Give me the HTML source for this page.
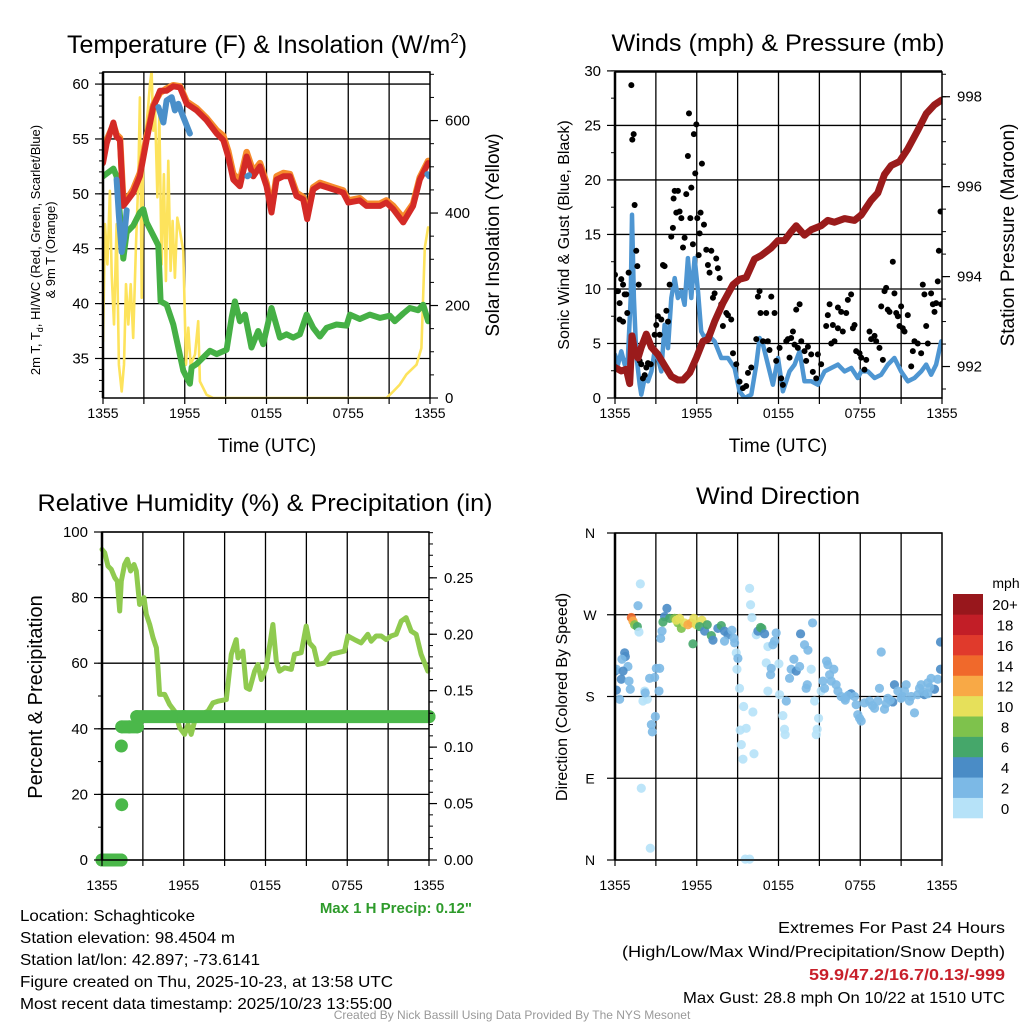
<!DOCTYPE html>
<html><head><meta charset="utf-8"><style>
html,body{margin:0;padding:0;background:#fff;}
svg{display:block;font-family:"Liberation Sans",sans-serif;}
</style></head><body>
<svg id="chart" width="1024" height="1024" viewBox="0 0 1024 1024" xmlns="http://www.w3.org/2000/svg"></svg>
<script>
// ---------- DATA ----------
const xTickLabels = ["1355","1955","0155","0755","1355"];
const tempTicks = [35,40,45,50,55,60];
const solarTicks = [0,200,400,600];
const windTicks = [0,5,10,15,20,25,30];
const presTicks = [992,994,996,998];
const rhTicks = [0,20,40,60,80,100];
const precipTicks = [0,0.05,0.10,0.15,0.20,0.25];
const dirTickLabels = ["N","E","S","W","N"];
const speedBinLabels = ["0","2","4","6","8","10","12","14","16","18","20+"];

const tTimes = [0,0.27,0.76,1.0,1.25,1.49,1.86,2.22,2.71,3.2,3.69,4.18,4.67,5.16,5.65,6.14,6.87,7.6,8.34,8.83,9.19,9.56,10.05,10.54,11.03,11.52,12.0,12.37,12.74,13.23,13.72,14.2,14.69,14.99,15.43,15.92,16.9,17.63,18.0,18.85,19.34,20.32,20.8,21.3,22.03,22.76,23.25,23.86];
const tempRed = [52.8,54.6,56.5,55.2,54.9,48.9,49.5,50.1,51.6,54.9,57.9,59.4,59.4,59.8,59.7,58.2,57.6,56.7,55.5,54.9,53.4,51.3,50.7,53.4,51.6,52.5,50.7,48.3,51.3,51.6,51.6,49.8,49.5,47.7,50.4,50.8,50.4,50.1,49.2,49.4,48.9,48.9,49.2,48.6,47.4,48.9,51.3,52.8];
const tempOrange = [53.1,54.9,56.3,55.4,55.1,49.3,49.7,50.4,51.9,55.2,58.1,59.2,59.6,59.9,59.8,58.4,57.8,56.9,55.8,55.3,53.9,51.8,51.2,53.8,52.0,52.8,51.0,48.6,51.6,51.9,51.8,50.1,49.7,48.0,50.6,51.0,50.6,50.3,49.4,49.6,49.1,49.1,49.4,48.9,47.8,49.1,51.5,53.0];
const wcTimes1 = [1.0,1.17,1.37,1.54,1.74];
const wcVals1 = [51.3,48.0,44.7,45.9,48.5];
const wcTimes2 = [4.06,4.43,4.67,5.04,5.28,5.53,5.89,6.38];
const wcVals2 = [57.9,56.5,58.5,58.8,57.6,58.2,57.0,55.5];
const wcTimes3 = [10.6,10.72];
const wcVals3 = [51.6,51.7];
const wcTimes4 = [23.8,23.95];
const wcVals4 = [51.8,51.6];
const tdTimes = [0,0.76,1.0,1.25,1.49,1.74,2.22,2.71,2.96,3.2,3.69,4.06,4.23,4.67,5.16,5.53,5.89,6.38,6.5,6.87,7.36,7.85,8.34,9.07,9.44,9.68,10.05,10.42,10.9,11.39,11.76,12.37,12.98,13.47,13.96,14.45,14.94,15.43,15.92,16.41,17.14,17.87,18.12,18.85,19.58,20.32,21.05,21.42,22.03,22.52,23.13,23.5,23.86];
const tdVals = [51.6,52.3,51.6,48.0,44.1,46.5,47.1,48.3,48.6,47.4,46.2,45.3,40.2,39.9,38.1,36.0,33.9,32.7,34.2,34.5,35.1,35.7,35.4,35.8,38.7,40.2,38.4,39.0,36.0,37.5,36.3,39.6,36.9,37.2,36.9,37.2,39.0,37.8,37.0,37.8,38.1,38.0,39.0,38.6,39.0,38.7,38.9,38.4,39.1,39.6,39.4,39.9,38.4];
const solTimes = [0,0.15,0.32,0.51,0.64,0.81,1.0,1.17,1.37,1.54,1.69,1.86,2.03,2.22,2.42,2.59,2.71,2.84,2.96,3.15,3.33,3.45,3.57,3.69,3.81,3.99,4.13,4.3,4.47,4.62,4.79,4.96,5.11,5.28,5.45,5.65,5.89,6.09,6.26,6.43,6.75,6.99,7.11,7.6,8.09,20.81,21.3,21.78,22.27,23.01,23.37,23.62,23.86];
const solVals = [123,376,289,448,267,159,376,72,14,72,246,159,246,130,332,470,650,217,535,578,636,679,708,578,636,434,614,289,484,253,513,275,383,260,390,361,318,72,152,72,94,166,36,7,0,0,14,29,51,72,108,325,369];
const windTimes = [0,0.22,0.46,0.71,0.95,1.15,1.25,1.39,1.56,1.81,1.93,2.18,2.42,2.67,2.91,3.15,3.4,3.64,3.89,4.13,4.38,4.62,4.87,5.11,5.35,5.6,5.84,6.09,6.33,6.58,6.82,7.31,7.8,8.29,8.78,9.14,9.51,10.0,10.37,10.61,10.86,11.22,11.59,11.96,12.32,12.81,13.18,13.55,13.91,14.4,14.89,15.38,15.87,16.36,16.85,17.34,17.82,18.07,18.56,19.05,19.54,20.02,20.51,21.0,21.49,21.98,22.47,22.84,23.2,23.57,23.94];
const windVals = [3.97,3.06,4.28,3.06,3.67,9.17,16.8,9.17,3.97,1.22,0.31,1.83,1.53,2.44,4.28,3.67,2.44,6.72,4.58,9.17,11.0,9.17,9.78,8.55,12.83,9.17,12.83,9.78,6.11,5.5,5.8,5.19,3.67,3.67,2.75,0.61,0,0.31,3.06,5.5,4.89,3.06,1.22,3.67,0.61,2.44,3.06,4.28,1.53,1.53,1.22,2.44,2.75,3.06,2.44,2.75,1.83,2.44,2.44,1.83,2.14,3.06,3.67,2.44,1.53,1.83,2.44,3.06,2.14,3.06,5.19];
const presTimes = [0,0.46,0.83,1.08,1.25,1.44,1.69,1.93,2.3,2.67,3.15,3.64,4.13,4.62,4.99,5.48,5.97,6.45,6.82,7.31,7.92,8.66,9.14,9.63,10.24,10.73,11.47,11.96,12.44,12.93,13.3,13.91,14.4,15.13,15.62,16.11,16.85,17.58,18.07,18.8,19.29,19.78,20.27,20.88,21.49,22.22,22.84,23.45,23.94];
const presVals = [991.98,991.9,991.94,991.62,992.68,992.35,992.19,992.43,992.72,992.43,992.27,992.02,991.78,991.7,991.7,991.86,992.19,992.56,992.6,993.0,993.41,993.82,993.94,993.98,994.39,994.47,994.64,994.8,994.8,995.0,995.13,994.92,995.04,995.13,995.25,995.21,995.29,995.25,995.37,995.7,995.86,996.27,996.47,996.56,996.84,997.25,997.62,997.82,997.92];
const gustTimes = [0,0.1,0.22,0.34,0.46,0.59,0.71,0.83,0.34,0.59,0.9,1.0,1.2,1.27,1.37,1.44,1.56,1.64,1.74,1.81,1.93,2.05,2.18,2.3,2.42,2.62,2.79,2.91,3.03,3.15,3.28,3.4,3.52,3.64,3.77,3.89,4.01,4.13,4.25,4.3,4.38,4.62,4.5,4.74,4.87,4.99,5.11,5.23,5.35,5.43,5.53,5.6,5.72,5.79,5.89,5.97,6.04,6.14,6.21,6.28,6.38,6.53,6.7,6.82,6.94,7.07,7.19,7.31,7.43,7.55,7.68,7.8,7.92,8.17,8.29,8.53,8.66,8.9,9.14,9.39,9.63,9.76,10.0,10.37,10.49,10.61,10.68,10.86,11.1,11.22,11.34,11.47,11.71,11.83,12.08,12.2,12.32,12.57,12.69,12.81,12.93,13.06,13.18,13.3,13.42,13.55,13.67,13.91,14.03,14.16,14.4,14.52,14.77,14.89,15.13,15.5,15.62,15.75,15.87,15.99,16.11,16.36,16.36,16.6,16.72,16.97,17.09,17.33,17.46,17.58,17.7,17.95,18.07,18.31,18.44,18.68,18.8,19.05,19.17,19.41,19.54,19.66,19.78,19.9,20.02,20.15,20.39,20.51,20.64,20.76,20.88,21.0,21.12,21.25,21.49,21.74,21.86,21.98,22.22,22.47,22.59,22.71,22.84,22.96,23.2,23.33,23.45,23.57,23.69,23.77,23.89,23.94];
const gustVals = [11.3,9.8,9.8,8.7,10.9,10.4,9.5,9.5,7.2,7.0,7.8,11.5,28.7,23.7,24.2,17.7,13.5,12.1,10.4,3.4,3.1,1.8,2.1,2.8,3.2,3.1,4.6,5.8,6.7,7.5,5.8,7.2,12.2,12.1,8.0,7.0,10.4,14.8,15.6,18.3,19.0,19.0,17.0,17.1,16.5,13.8,14.7,18.7,22.2,26.1,16.5,19.3,14.1,24.2,20.6,25.1,16.5,13.1,15.1,17.0,21.5,15.9,13.6,12.2,11.5,13.5,9.2,9.6,12.8,11.9,11.0,8.6,6.6,7.8,7.6,7.2,4.1,3.1,1.5,0.9,1.1,2.3,2.8,5.4,9.3,9.8,7.8,5.2,7.8,5.2,4.4,9.3,7.8,3.4,4.6,1.8,1.2,5.2,5.4,3.7,5.5,6.1,4.9,8.1,4.6,8.6,5.2,4.3,3.4,4.7,4.0,2.4,1.8,4.0,3.1,6.6,7.6,8.6,5.0,6.7,5.2,8.3,6.4,7.9,6.1,7.8,9.0,9.5,6.4,6.7,4.3,4.1,3.7,2.6,3.5,6.1,5.4,5.7,5.2,4.6,8.4,3.5,9.8,10.1,8.1,7.9,12.5,9.6,7.8,7.5,6.6,8.4,6.4,6.1,7.6,2.9,4.3,5.2,5.0,4.1,10.4,9.5,6.6,5.0,9.6,8.6,7.9,8.7,10.7,13.5,17.1,8.6];
const rhTimes = [0,0.2,0.44,0.68,0.93,1.12,1.3,1.42,1.66,1.86,2.1,2.35,2.52,2.76,3.08,3.25,3.5,3.74,3.99,4.11,4.23,4.6,4.96,5.33,5.7,6.06,6.31,6.55,6.8,7.29,7.78,8.14,8.51,9.12,9.49,9.85,9.98,10.34,10.59,10.83,11.2,11.44,11.69,12.05,12.54,12.79,13.03,13.4,13.89,14.13,14.62,14.99,15.23,15.55,15.84,16.33,16.82,17.31,17.8,18.04,18.53,19.02,19.51,19.76,20.12,20.49,20.86,21.22,21.59,21.96,22.32,22.69,23.06,23.42,23.91];
const rhVals = [94.7,93.7,89.6,88.6,86.1,85.0,75.9,85.0,90.1,91.7,88.1,90.1,88.1,77.9,80.0,74.9,71.8,67.8,64.7,58.6,50.5,50.5,47.4,45.4,40.3,38.3,41.3,38.3,42.3,44.4,45.4,47.9,48.4,48.9,62.7,67.2,61.6,63.7,52.5,52.0,57.6,59.6,55.0,58.6,71.8,60.6,57.6,58.6,58.1,62.7,63.2,71.3,66.2,64.7,59.6,60.1,62.7,63.2,63.7,68.3,67.2,66.2,68.8,66.7,68.3,68.3,67.2,68.3,68.8,72.8,73.9,69.8,68.8,62.7,57.6];
const precipTimes = [0,0.5,1.0,1.4,1.45,1.42,1.45,2.0,2.6,2.55,6,12,18,24];
const precipVals = [0,0,0,0,0.049,0.101,0.118,0.118,0.118,0.127,0.127,0.127,0.127,0.127];
const dirTimes = [1.86,1.69,1.2,1.32,1.44,1.64,1.76,0.71,0.76,0.51,0.95,0,0.1,0.59,0.46,1.03,0.1,0.34,1.12,2.18,2.05,2.37,2.22,2.54,2.91,3.03,3.28,3.23,2.96,2.67,2.74,1.93,2.59,3.81,3.64,4.01,4.38,4.62,4.87,4.5,4.74,5.11,5.35,5.6,5.79,5.97,6.38,5.72,3.52,3.45,3.35,6.21,6.58,6.77,7.07,7.55,7.8,7.19,8.04,8.29,8.58,8.73,8.78,8.04,8.9,9.02,8.95,9.14,9.44,10.12,9.19,9.63,9.27,9.39,10.2,9.88,9.95,10.05,10.37,10.49,10.68,10.78,10.98,11.22,11.59,11.71,11.1,11.47,11.42,12.03,11.83,12.08,11.22,12.32,12.57,12.49,12.44,12.81,12.93,13.13,13.3,13.55,13.62,13.91,14.16,14.4,14.11,14.03,14.65,14.94,14.84,14.77,14.5,15.13,15.26,15.38,15.53,15.62,15.75,15.87,16.06,16.23,16.36,16.6,16.85,17.21,17.33,17.58,17.7,17.82,17.95,18.07,18.31,18.68,19.05,19.29,19.54,19.41,19.78,20.02,20.39,20.51,20.76,21.0,21.25,21.37,21.61,21.98,22.22,22.47,22.71,22.96,23.2,23.45,23.69,23.89,23.89,22.96,22.35,21.74,9.56,9.88,18.9,19.9,20.2,21.1,22.6,23.1,17.1,16.9];
const dirDegs = [304,280,267,263,259,257,251,228,224,221,213,208,210,208,199,197,187,177,188,186,175,177,184,200,201,211,211,186,158,149,141,79,13,277,268,266,266,261,255,264,266,261,259,261,266,259,264,238,262,252,244,257,252,259,247,255,258,242,252,248,253,244,239,241,228,222,210,189,169,163,143,145,127,111,117,299,281,267,248,252,256,255,249,235,237,241,217,211,204,216,250,182,186,159,175,138,144,200,210,221,208,213,249,237,231,210,193,189,175,156,144,138,261,186,197,189,219,215,204,197,210,193,186,180,178,182,183,180,171,160,156,153,173,175,167,175,229,189,166,178,174,193,186,178,186,193,175,162,182,193,182,195,200,188,199,210,240,183,189,180,1,1,170,172,176,180,185,190,181,176];
const dirSpeeds = [0,3,15,13,9,7,1,4,4,3,3,4,3,4,4,3,4,3,3,1,0,1,3,3,3,3,3,3,3,3,3,1,0,4,5,7,9,9,8,10,10,10,12,12,10,11,10,6,6,3,3,6,4,6,6,4,6,4,4,4,3,3,3,3,1,2,1,1,1,1,1,1,1,1,1,0,0,0,1,4,6,6,4,1,2,2,1,2,2,1,3,1,0,1,3,1,1,2,2,2,4,2,4,2,2,0,2,2,0,1,1,1,2,0,2,2,2,2,2,2,2,2,2,2,2,2,4,2,2,2,2,2,2,2,2,2,2,2,2,2,4,4,2,2,2,2,2,2,2,2,4,2,2,4,2,4,4,2,2,2,0,0,2,2,2,2,2,2,2,2];
const speedColors = ["#b6e2f8","#7cb9e6","#4a8cc6","#45a76a","#7ec24c","#e6e05a","#f8a946","#f0692b","#e03a2c","#c21e27","#98171c"];

// ---------- RENDER ----------
const NS="http://www.w3.org/2000/svg";
const svg=document.getElementById('chart');
function el(tag,attrs,parent){const e=document.createElementNS(NS,tag);for(const k in attrs)e.setAttribute(k,attrs[k]);(parent||svg).appendChild(e);return e;}
function txt(s,x,y,size,anchor,parent,extra){const t=el('text',Object.assign({x:x,y:y,'font-size':size,'text-anchor':anchor||'middle',fill:'#000'},extra||{}),parent);t.textContent=s;return t;}
function fitW(t,w){t.setAttribute('textLength',w);t.setAttribute('lengthAdjust','spacingAndGlyphs');}

const P1={x0:103,x1:430,y0:72,y1:398};
const P2={x0:615,x1:942,y0:72,y1:398};
const P3={x0:102,x1:429,y0:532,y1:860};
const P4={x0:615,x1:942,y0:533,y1:860};
function sx(P,h){return P.x0+(P.x1-P.x0)*h/24;}
function lin(P,lo,hi){return v=>P.y1-(P.y1-P.y0)*(v-lo)/(hi-lo);}
const yT=lin(P1,31.4,61.1), yS=lin(P1,0,705);
const yW=lin(P2,0,29.9), yP=lin(P2,991.3,998.55);
const yR=lin(P3,0,100), yPr=lin(P3,0,0.2906);
const yD=lin(P4,0,360);

function grid(P,g,ys){
  for(let h=3;h<24;h+=3){const l=el('line',{x1:sx(P,h),x2:sx(P,h),y1:P.y0,y2:P.y1,stroke:'#000','stroke-width':1.3},g);
    
    }
  ys.forEach(y=>{const l=el('line',{x1:P.x0,x2:P.x1,y1:y,y2:y,stroke:'#000','stroke-width':1.3},g);
    
    });
}
function frame(P,g){
  const r=el('rect',{x:P.x0,y:P.y0,width:P.x1-P.x0,height:P.y1-P.y0,fill:'none',stroke:'#000','stroke-width':1.5},g);
  
  
  el('line',{x1:P.x0,x2:P.x0,y1:P.y0,y2:P.y1,stroke:'#000','stroke-width':2.5},g);
}
function xAxis(P,g,labY){
  const ax=el('g',{},g);
  
  
  for(let h=0;h<=24;h+=3){el('line',{x1:sx(P,h),x2:sx(P,h),y1:P.y1,y2:P.y1+6,stroke:'#000','stroke-width':1.2},ax);}
  xTickLabels.forEach((s,i)=>{const t=txt(s,sx(P,i*6),labY,14,'middle',ax);
    
    });
}
function yAxisL(P,g,ticks,fy,fmt,minorStep,lo,hi){
  const ax=el('g',{},g);
  
  
  if(minorStep){for(let v=lo;v<=hi+1e-9;v+=minorStep){el('line',{x1:P.x0-4,x2:P.x0,y1:fy(v),y2:fy(v),stroke:'#000','stroke-width':1},ax);}}
  ticks.forEach(v=>{el('line',{x1:P.x0-8,x2:P.x0,y1:fy(v),y2:fy(v),stroke:'#000','stroke-width':1.2},ax);
    const t=txt(fmt(v),P.x0-14,fy(v)+5,15,'end',ax);
    
    });
}
function yAxisR(P,g,ticks,fy,fmt,minorStep,lo,hi){
  const ax=el('g',{},g);
  
  
  if(minorStep){for(let v=lo;v<=hi+1e-9;v+=minorStep){el('line',{x1:P.x1,x2:P.x1+4,y1:fy(v),y2:fy(v),stroke:'#000','stroke-width':1},ax);}}
  ticks.forEach(v=>{el('line',{x1:P.x1,x2:P.x1+8,y1:fy(v),y2:fy(v),stroke:'#000','stroke-width':1.2},ax);
    const t=txt(fmt(v),P.x1+15,fy(v)+5,15,'start',ax);
    
    });
}
function line(P,g,times,vals,fy,color,w,name){
  const pts=times.map((h,i)=>sx(P,h).toFixed(1)+','+fy(vals[i]).toFixed(1)).join(' ');
  const p=el('polyline',{points:pts,fill:'none',stroke:color,'stroke-width':w,'stroke-linejoin':'round','stroke-linecap':'round'},g);
  
  
  return p;
}
function rotText(s,x,y,size,parent,name){
  const t=txt(s,0,0,size,'middle',parent,{transform:'translate('+x+','+y+') rotate(-90)'});
  
  
  return t;
}
function clip(id,P){const c=el('clipPath',{id:id});el('rect',{x:P.x0,y:P.y0-1,width:P.x1-P.x0,height:P.y1-P.y0+2},c);}
clip('c1',P1);clip('c2',P2);clip('c3',{x0:P3.x0-8,x1:P3.x1+10,y0:P3.y0,y1:P3.y1+10});clip('c4',{x0:P4.x0,x1:P4.x1,y0:P4.y0-5,y1:P4.y1+5});

// ---- Panel 1
const g1=el('g',{});


grid(P1,g1,tempTicks.map(yT).concat([P1.y0]));
const s1=el('g',{'clip-path':'url(#c1)'},g1);
line(P1,s1,solTimes,solVals,yS,'#fde35c',2.6,'solar-insolation-line');
line(P1,s1,tdTimes,tdVals,yT,'#45b045',6,'dewpoint-line');
line(P1,s1,tTimes,tempOrange,yT,'#f68b2c',6.5,'temp-9m-line');
line(P1,s1,tTimes,tempRed,yT,'#d42a26',6,'temp-2m-line');
[[wcTimes1,wcVals1],[wcTimes2,wcVals2],[wcTimes3,wcVals3],[wcTimes4,wcVals4]].forEach(a=>line(P1,s1,a[0],a[1],yT,'#4a8fc9',6,'heat-index-windchill-line'));
frame(P1,g1);
xAxis(P1,g1,418);
yAxisL(P1,g1,tempTicks,yT,v=>String(v),1,32,61);
yAxisR(P1,g1,solarTicks,yS,v=>String(v),50,0,700);
const t1=txt('',267,53,25,'middle',g1);t1.innerHTML='Temperature (F) &amp; Insolation (W/m<tspan font-size="15" dy="-10">2</tspan><tspan dy="10">)</tspan>';


const yl1=txt('',0,0,13,'middle',g1,{transform:'translate(40,250) rotate(-90)'});
yl1.innerHTML='2m T, T<tspan font-size="9" dy="3">d</tspan><tspan dy="-3">, HI/WC (Red, Green, Scarlet/Blue)</tspan>';


rotText('& 9m T (Orange)',55,250,13,g1,'temperature-y-title-line2');
rotText('Solar Insolation (Yellow)',499,235,19,g1,'solar-y-title');
const xt1=txt('Time (UTC)',267,452,19,'middle',g1);



// ---- Panel 2
const g2=el('g',{});


grid(P2,g2,windTicks.map(yW));
const s2=el('g',{'clip-path':'url(#c2)'},g2);
line(P2,s2,windTimes,windVals,yW,'#4e96d2',4.5,'sonic-wind-line');
gustTimes.forEach((h,i)=>{const c=el('circle',{cx:sx(P2,h),cy:yW(gustVals[i]),r:3,fill:'#000'},s2);
  
  });
line(P2,s2,presTimes,presVals,yP,'#9a1b1b',7,'pressure-line');
frame(P2,g2);
xAxis(P2,g2,418);
yAxisL(P2,g2,windTicks,yW,v=>String(v),2.5,0,30);
yAxisR(P2,g2,presTicks,yP,v=>String(v),0.5,991.5,998.5);
const t2=txt('Winds (mph) & Pressure (mb)',778,51,24,'middle',g2);
fitW(t2,333);


rotText('Sonic Wind & Gust (Blue, Black)',569,235,16,g2,'wind-y-title');
rotText('Station Pressure (Maroon)',1014,235,19,g2,'pressure-y-title');
const xt2=txt('Time (UTC)',778,452,19,'middle',g2);



// ---- Panel 3
const g3=el('g',{});


grid(P3,g3,rhTicks.map(yR));
const s3=el('g',{'clip-path':'url(#c3)'},g3);
line(P3,s3,rhTimes,rhVals,yR,'#8fca4f',5,'relative-humidity-line');
for(let i=0;i<precipTimes.length;i++){
  const c=el('circle',{cx:sx(P3,precipTimes[i]),cy:yPr(precipVals[i]),r:6.5,fill:'#4bb84a'},s3);
  
  
  if(i>0&&precipVals[i]===precipVals[i-1]){
    const l=el('line',{x1:sx(P3,precipTimes[i-1]),x2:sx(P3,precipTimes[i]),y1:yPr(precipVals[i]),y2:yPr(precipVals[i]),stroke:'#4bb84a','stroke-width':13,'stroke-linecap':'round'},s3);
    
    
  }
}
frame(P3,g3);
xAxis(P3,g3,890);
yAxisL(P3,g3,rhTicks,yR,v=>String(v),10,0,100);
yAxisR(P3,g3,precipTicks,yPr,v=>v.toFixed(2),0.01,0,0.29);
const t3=txt('Relative Humidity (%) & Precipitation (in)',265,511,24,'middle',g3);
fitW(t3,455);


rotText('Percent & Precipitation',42,697,20,g3,'humidity-y-title');
const mp=txt('Max 1 H Precip: 0.12"',472,913,15,'end',g3,{fill:'#2e9b2b','font-weight':'bold'});



// ---- Panel 4
const g4=el('g',{});


grid(P4,g4,[0,90,180,270,360].map(yD));
const s4=el('g',{'clip-path':'url(#c4)'},g4);
dirTimes.forEach((h,i)=>{const b=Math.min(10,Math.floor(dirSpeeds[i]/2));
  const c=el('circle',{cx:sx(P4,h),cy:yD(dirDegs[i]),r:4.6,fill:speedColors[b],'fill-opacity':0.9},s4);
  
  });
frame(P4,g4);
xAxis(P4,g4,890);
const dax=el('g',{},g4);


dirTickLabels.forEach((s,i)=>{const y=yD(i*90);el('line',{x1:P4.x0-8,x2:P4.x0,y1:y,y2:y,stroke:'#000','stroke-width':1.2},dax);
  const t=txt(s,590,y+5,14,'middle',dax);
  
  });
const t4=txt('Wind Direction',778,504,24,'middle',g4);
fitW(t4,164);


rotText('Direction (Colored By Speed)',567,697,16,g4,'direction-y-title');
// colorbar
const cb=el('g',{});


const cbTop=594,cbBot=818,cbH=(cbBot-cbTop)/speedColors.length;
speedColors.forEach((c,i)=>{const y=cbBot-(i+1)*cbH;
  const r=el('rect',{x:953,y:y,width:30,height:cbH+0.3,fill:c},cb);
  
  
  const t=txt(speedBinLabels[i],1005,y+cbH/2+6,15,'middle',cb);
  
  });
const cbt=txt('mph',1006,588,14,'middle',cb);



// ---- footer
const ft=el('g',{});


const infoW=[175,215,240,373,372];
["Location: Schaghticoke","Station elevation: 98.4504 m","Station lat/lon: 42.897; -73.6141","Figure created on Thu, 2025-10-23, at 13:58 UTC","Most recent data timestamp: 2025/10/23 13:55:00"].forEach((s,i)=>{
  const t=txt(s,20,921+i*22,16,'start',ft);
  fitW(t,infoW[i]);
  
  });
const ex=el('g',{});


[["Extremes For Past 24 Hours",933,'#000',false,227],["(High/Low/Max Wind/Precipitation/Snow Depth)",957,'#000',false,383],["59.9/47.2/16.7/0.13/-999",980,'#c8202a',true,196],["Max Gust: 28.8 mph On 10/22 at 1510 UTC",1003,'#000',false,322]].forEach(a=>{
  const t=txt(a[0],1005,a[1],16,'end',ex,{fill:a[2],'font-weight':a[3]?'bold':'normal'});
  fitW(t,a[4]);
  
  });
const cr=txt('Created By Nick Bassill Using Data Provided By The NYS Mesonet',512,1019,12,'middle',svg,{fill:'#999'});


</script>
</body></html>
